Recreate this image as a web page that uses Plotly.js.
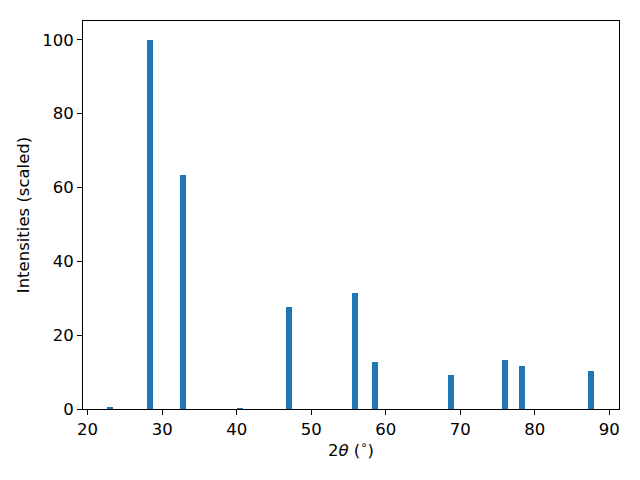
<!DOCTYPE html>
<html>
<head>
<meta charset="utf-8">
<script src="https://cdn.plot.ly/plotly-3.0.1.min.js"></script>
<style>html,body{margin:0;padding:0;background:#fff;}#chart{width:640px;height:480px;}</style>
</head>
<body>
<div id="chart"></div>
<script>
const twoTheta = [23.04, 28.41, 32.83, 40.48, 47.05, 55.9, 58.6, 68.8, 76.05, 78.33, 87.55];
const intensities = [0.6, 100, 63.4, 0.3, 27.6, 31.4, 12.7, 9.2, 13.3, 11.65, 10.3];
const barWidth = 0.8;

const trace = {
  type: 'bar',
  x: twoTheta,
  y: intensities,
  width: twoTheta.map(() => barWidth),
  marker: {color: '#1f77b4', line: {width: 0}},
  hoverinfo: 'x+y'
};

const fontSize = 16.5;

const axisCommon = {
  showgrid: false,
  zeroline: false,
  showline: true,
  linecolor: '#000',
  linewidth: 1,
  mirror: true,
  ticks: 'outside',
  ticklen: 5,
  tickwidth: 1,
  tickcolor: '#000',
  tickfont: {family: 'DejaVu Sans', size: fontSize, color: '#000'}
};

const layout = {
  width: 640,
  height: 480,
  margin: {l: 83, r: 21, t: 21, b: 71},
  paper_bgcolor: '#fff',
  plot_bgcolor: '#fff',
  showlegend: false,
  bargap: 0,
  xaxis: Object.assign({}, axisCommon, {
    range: [19.38, 91.3],
    tickvals: [20, 30, 40, 50, 60, 70, 80, 90],
    title: {text: '2<i>θ</i> (<sup>∘</sup>)', font: {family: 'DejaVu Sans', size: fontSize, color: '#000'}, standoff: 6}
  }),
  yaxis: Object.assign({}, axisCommon, {
    range: [0, 105.1],
    tickvals: [0, 20, 40, 60, 80, 100],
    title: {text: 'Intensities (scaled)', font: {family: 'DejaVu Sans', size: fontSize, color: '#000'}, standoff: 8}
  })
};

Plotly.newPlot('chart', [trace], layout, {displayModeBar: false, staticPlot: true});
</script>
</body>
</html>
